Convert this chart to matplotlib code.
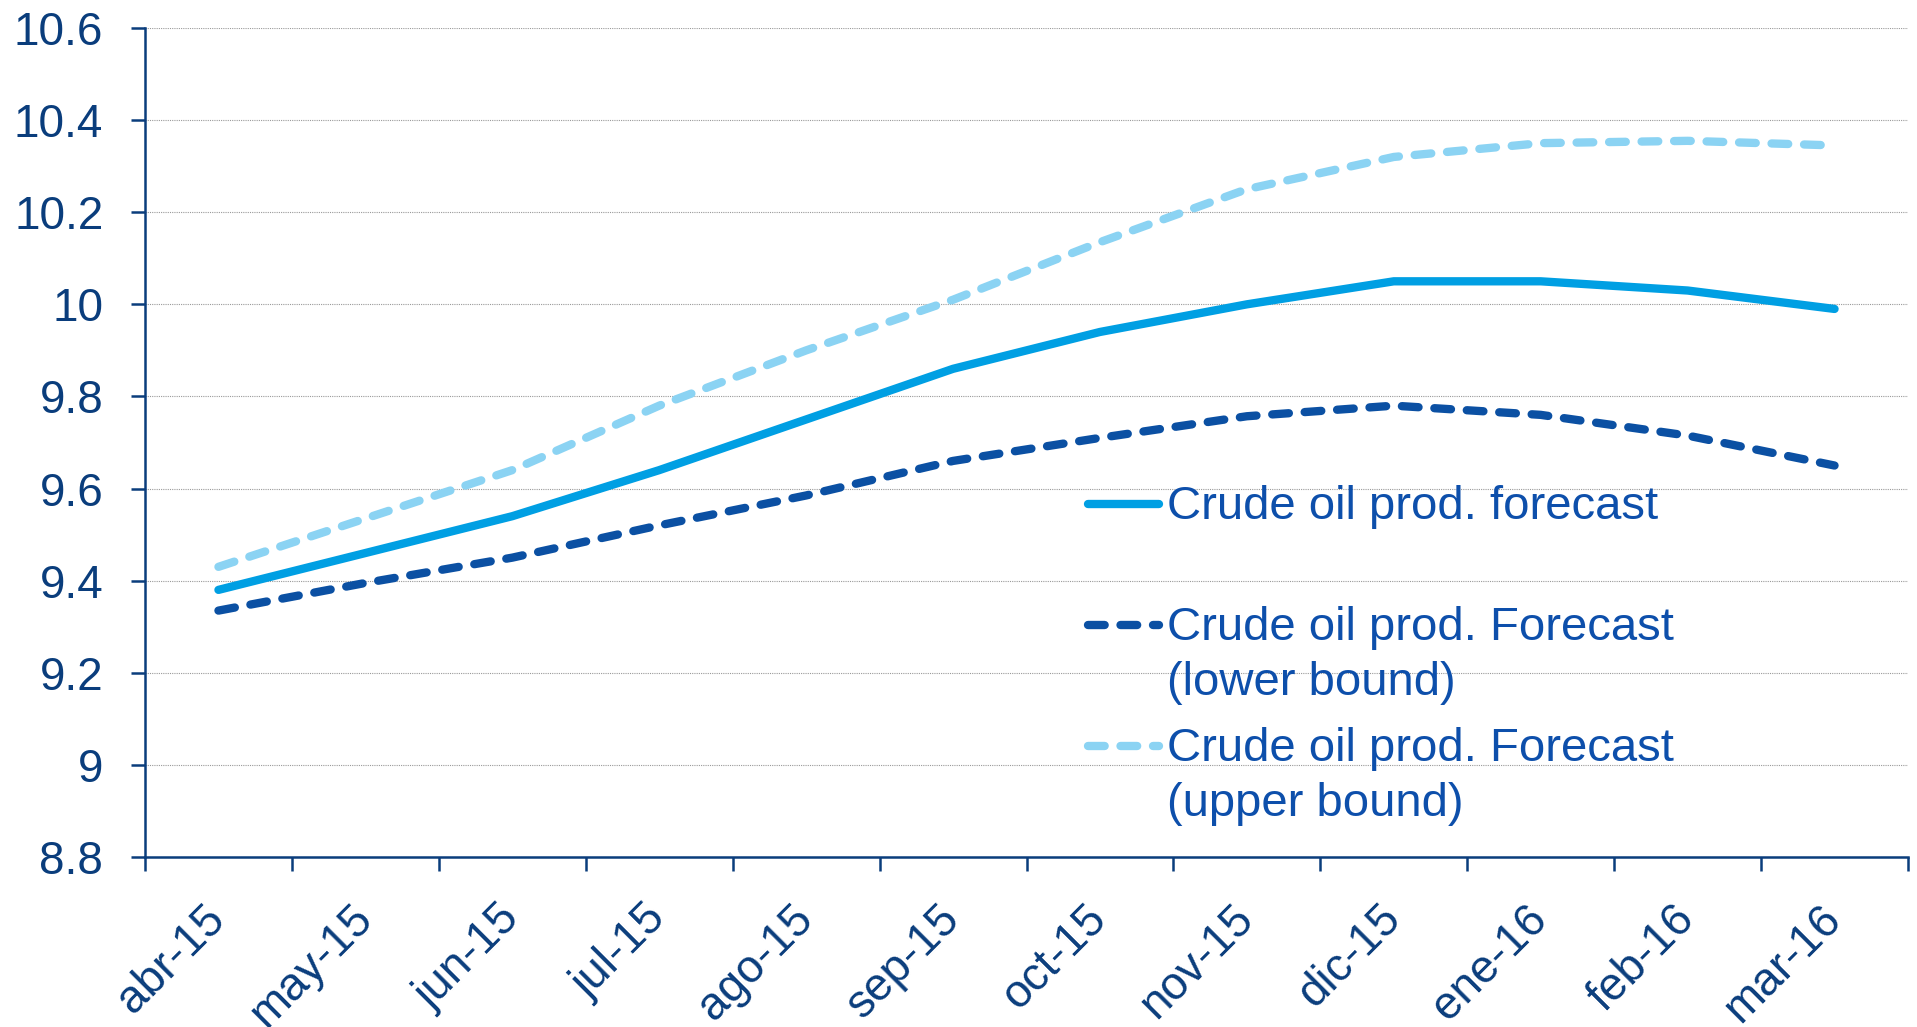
import numpy as np
import matplotlib
matplotlib.use('Agg')
import matplotlib.pyplot as plt
from matplotlib.ticker import FixedLocator, FuncFormatter

# datos
meses = ['abr-15', 'may-15', 'jun-15', 'jul-15', 'ago-15', 'sep-15',
         'oct-15', 'nov-15', 'dic-15', 'ene-16', 'feb-16', 'mar-16']
pronostico = [9.38, 9.46, 9.54, 9.64, 9.75, 9.86, 9.94, 10.00, 10.05, 10.05, 10.03, 9.99]
limite_inf = [9.335, 9.395, 9.45, 9.52, 9.585, 9.66, 9.71, 9.757, 9.78, 9.76, 9.715, 9.65]
limite_sup = [9.43, 9.535, 9.64, 9.78, 9.90, 10.01, 10.135, 10.25, 10.32, 10.35, 10.355, 10.345]

etiquetas = ['Crude oil prod. forecast\n',
             'Crude oil prod. Forecast\n(lower bound)',
             'Crude oil prod. Forecast\n(upper bound)']

azul = '#009FE3'
azul_osc = '#0B50A3'
azul_cla = '#8BD3F3'
navy = '#0A3D7C'
texto_leyenda = '#0D4FAB'

plt.rcParams['font.family'] = ['Liberation Sans', 'DejaVu Sans']

fig = plt.figure(figsize=(19.17, 10.27), dpi=100)
ax = fig.add_axes([145/1917, 1 - 857/1027, (1908 - 145)/1917, (857 - 28)/1027])

x = np.arange(len(meses))
ax.plot(x, pronostico, color=azul, lw=6, solid_capstyle='round', label=etiquetas[0], zorder=3)
ax.plot(x, limite_inf, color=azul_osc, lw=6, dashes=(2.0, 1.9), dash_capstyle='round',
        label=etiquetas[1], zorder=3)
ax.plot(x, limite_sup, color=azul_cla, lw=6, dashes=(2.0, 1.9), dash_capstyle='round',
        label=etiquetas[2], zorder=3)

ax.set_xlim(-0.5, len(meses) - 0.5)
ax.set_ylim(8.8, 10.6)

# eje y
ax.set_yticks(np.arange(8.8, 10.61, 0.2))
ax.yaxis.set_major_formatter(FuncFormatter(lambda v, p: '%g' % round(v, 1)))
ax.tick_params(axis='y', direction='out', length=10, width=1.8, color=navy,
               labelsize=33, labelcolor=navy, pad=20)
ax.grid(axis='y', color='#9a9a9a', linestyle=(0, (1, 1)), linewidth=0.8, zorder=0)

# eje x: marcas entre categorias, etiquetas en el centro
ax.set_xticks(x)
ax.set_xticklabels(meses, rotation=45, ha='right', va='center', rotation_mode='anchor')
ax.xaxis.set_minor_locator(FixedLocator(np.arange(-0.5, len(meses), 1.0)))
ax.tick_params(axis='x', which='major', length=0, labelsize=33, labelcolor=navy, pad=40)
ax.tick_params(axis='x', which='minor', direction='out', length=10, width=1.8, color=navy)

for lado in ['top', 'right']:
    ax.spines[lado].set_visible(False)
for lado in ['left', 'bottom']:
    ax.spines[lado].set_color(navy)
    ax.spines[lado].set_linewidth(1.8)

leg = ax.legend(loc='upper left', bbox_to_anchor=(1088/1917, 1 - 485/1027),
                bbox_transform=fig.transFigure, frameon=False, fontsize=34,
                borderpad=0, borderaxespad=0, handlelength=1.5, handletextpad=0.17,
                handleheight=1.0, labelspacing=0.48)
for t in leg.get_texts():
    t.set_color(texto_leyenda)
    t.set_linespacing(1.31)
# alinear el simbolo con la primera linea del texto
for col in leg._legend_handle_box.get_children():
    for fila in col.get_children():
        fila.align = 'top'

plt.savefig('out.png', dpi=100)
